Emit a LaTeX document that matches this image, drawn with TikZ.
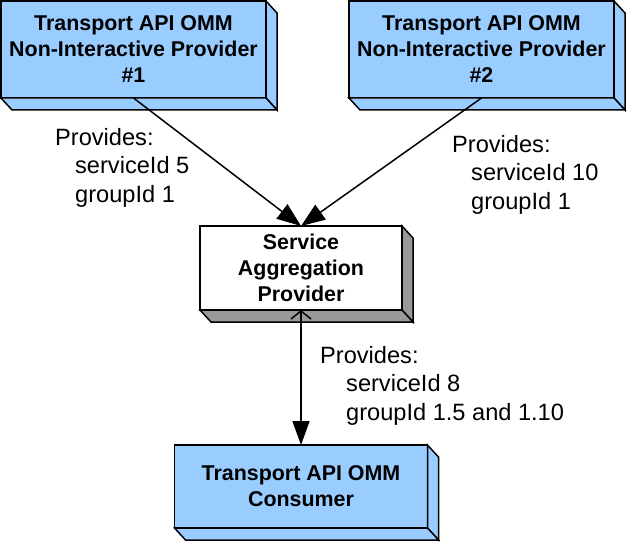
\documentclass[tikz,border=0pt]{standalone}
\usepackage{fontspec}
\setmainfont{Liberation Sans}
\usepackage{tikz}
\usetikzlibrary{positioning}
\usetikzlibrary{arrows.meta}
\definecolor{provblue}{HTML}{99CCFF}
\definecolor{sidegray}{HTML}{999999}
\tikzstyle{provider} = [rectangle, draw, fill=provblue, line width=1.5pt, outer sep=0pt, inner sep=0pt, align=center, font=\fontsize{21.4}{26}\selectfont\bfseries]
\tikzstyle{aggregator} = [provider, fill=white]
\tikzstyle{note} = [draw=none, fill=none, inner sep=0pt, align=left, font=\fontsize{23.6}{28.5}\selectfont]
\tikzstyle{feed} = [draw, line width=1.5pt, -{Triangle[length=24pt,width=18pt]}]
\tikzstyle{both} = [draw, line width=1.5pt, {Straight Barb[length=8pt,width=20pt]}-{Triangle[length=24pt,width=17pt]}]
% side and bottom faces of a box node
\newcommand{\extrude}[2]{%
  \filldraw[fill=#2, line width=1.5pt, line join=miter]
    (#1.north east) -- ++(11,12) -- ([shift={(11,12)}]#1.south east) -- (#1.south east) -- cycle;
  \filldraw[fill=#2, line width=1.5pt, line join=miter]
    (#1.south west) -- ++(11,12) -- ([shift={(11,12)}]#1.south east) -- (#1.south east) -- cycle;
}

\begin{document}
\begin{tikzpicture}[x=1pt, y=-1pt]
	\useasboundingbox (0,0) rectangle (627,543);

	% place nodes
	\node [provider, minimum width=265pt, minimum height=97pt] at (133.5,49.5) (nip1)
		{Transport API OMM\\Non-Interactive Provider\\\#1};
	\node [provider, minimum width=265pt, minimum height=97pt, right=83pt of nip1] (nip2)
		{Transport API OMM\\Non-Interactive Provider\\\#2};
	\node [aggregator, minimum width=202pt, minimum height=84pt] at (301,268) (sap)
		{Service\\Aggregation\\Provider};
	\node [provider, minimum width=253pt, minimum height=83pt, below=135pt of sap] (cons)
		{Transport API OMM\\Consumer};

	% 3D faces
	\extrude{nip1}{provblue}
	\extrude{nip2}{provblue}
	\extrude{sap}{sidegray}
	\extrude{cons}{provblue}

	% labels
	\node [note, anchor=north west] at (55,128) (prov1)
		{Provides:\\\hspace*{20pt}serviceId 5\\\hspace*{20pt}groupId 1};
	\node [note, anchor=north west] at (452,135) (prov2)
		{Provides:\\\hspace*{19pt}serviceId 10\\\hspace*{19pt}groupId 1};
	\node [note, anchor=north west] at (320,346) (prov3)
		{Provides:\\\hspace*{26pt}serviceId 8\\\hspace*{26pt}groupId 1.5 and 1.10};

	% draw edges
	\path [feed] (nip1.south) -- (sap.north);
	\path [feed] (nip2.south) -- (sap.north);
	\path [both] (sap.south) -- (cons.north);
\end{tikzpicture}
\end{document}
